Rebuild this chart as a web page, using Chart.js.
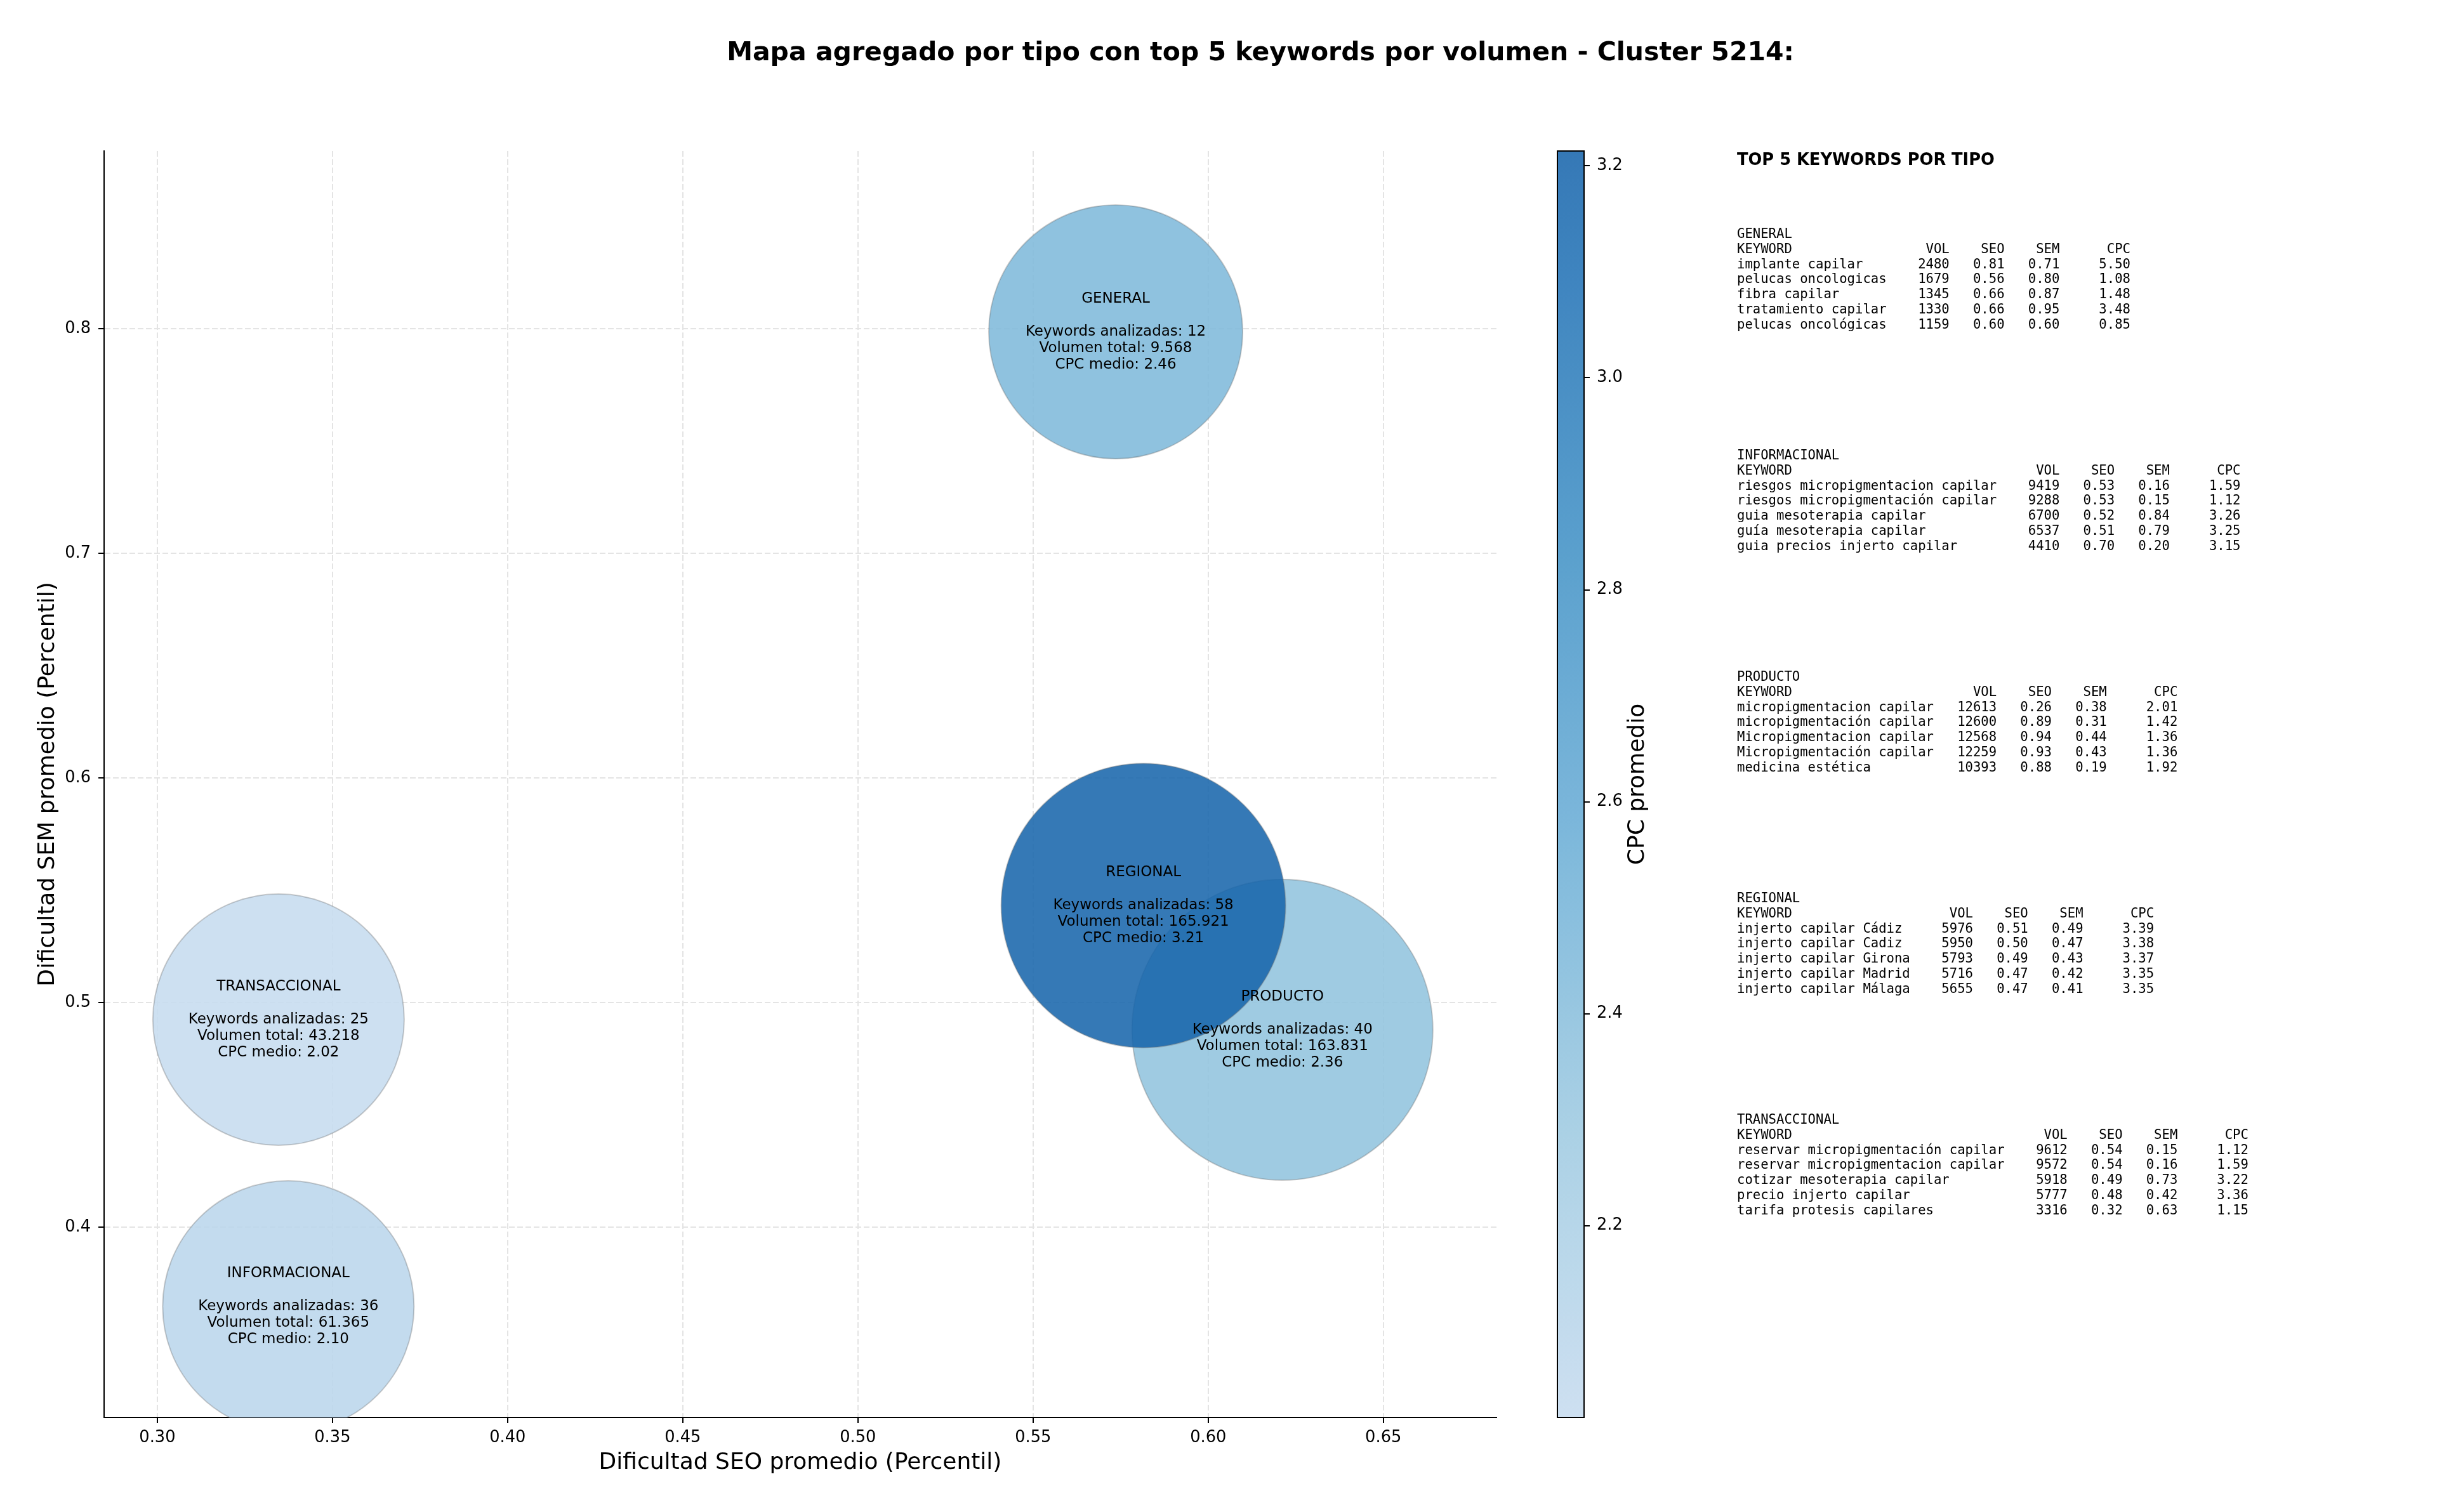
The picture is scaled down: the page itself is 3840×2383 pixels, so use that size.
<!DOCTYPE html>
<html>
<head>
<meta charset="utf-8">
<title>Mapa agregado por tipo - Cluster 5214</title>
<script src="https://cdn.jsdelivr.net/npm/chart.js@4.4.1/dist/chart.umd.min.js"></script>
<style>
  html, body { margin: 0; padding: 0; background: #fff; overflow: hidden; }
  #wrap { position: relative; width: 3840px; height: 2383px; }
  #chart { position: absolute; left: 0; top: 0; }
  #title { position: absolute; left: 0; top: 61px; width: 3972px; text-align: center;
           font: bold 41px/41px 'DejaVu Sans', sans-serif; color: #000; white-space: nowrap; }
  #panelTitle { position: absolute; left: 2737px; top: 239px;
                font: bold 25.7px/25.7px 'DejaVu Sans', sans-serif; color: #000; white-space: nowrap; }
  .kwBlock { position: absolute; left: 2737px; margin: 0;
             font: 20.6px/23.8px 'DejaVu Sans Mono', monospace; white-space: pre; color: #000; }
</style>
</head>
<body>
<div id="wrap">
  <canvas id="chart" width="3840" height="2383"></canvas>
  <div id="title">Mapa agregado por tipo con top 5 keywords por volumen - Cluster 5214:</div>
  <div id="panelTitle">TOP 5 KEYWORDS POR TIPO</div>
  <div id="panel"></div>
</div>
<script>
// --- datos agregados por tipo ---
const tipos = ['GENERAL', 'INFORMACIONAL', 'PRODUCTO', 'REGIONAL', 'TRANSACCIONAL'];
const seoMedio = [0.5736, 0.3374, 0.6212, 0.5815, 0.3346];
const semMedio = [0.7986, 0.3647, 0.4879, 0.5432, 0.4924];
const cpcMedio = [2.46, 2.10, 2.36, 3.21, 2.02];
const numKeywords = [12, 36, 40, 58, 25];
const volTotal = [9568, 61365, 163831, 165921, 43218];
const bubbleRadius = [200, 198, 237, 224, 198];

// ejes
const xTicks = [0.30, 0.35, 0.40, 0.45, 0.50, 0.55, 0.60, 0.65];
const yTicks = [0.4, 0.5, 0.6, 0.7, 0.8];
const cbarTicks = [2.2, 2.4, 2.6, 2.8, 3.0, 3.2];
const xRange = [0.2848, 0.6823];
const yRange = [0.3153, 0.8791];
const cbarRange = [2.019, 3.214];

// top 5 keywords por tipo: [keyword, vol, seo, sem, cpc]
const topGeneral = [
    ['implante capilar', 2480, 0.81, 0.71, 5.50],
    ['pelucas oncologicas', 1679, 0.56, 0.80, 1.08],
    ['fibra capilar', 1345, 0.66, 0.87, 1.48],
    ['tratamiento capilar', 1330, 0.66, 0.95, 3.48],
    ['pelucas oncológicas', 1159, 0.60, 0.60, 0.85]
];
const topInformacional = [
    ['riesgos micropigmentacion capilar', 9419, 0.53, 0.16, 1.59],
    ['riesgos micropigmentación capilar', 9288, 0.53, 0.15, 1.12],
    ['guia mesoterapia capilar', 6700, 0.52, 0.84, 3.26],
    ['guía mesoterapia capilar', 6537, 0.51, 0.79, 3.25],
    ['guia precios injerto capilar', 4410, 0.70, 0.20, 3.15]
];
const topProducto = [
    ['micropigmentacion capilar', 12613, 0.26, 0.38, 2.01],
    ['micropigmentación capilar', 12600, 0.89, 0.31, 1.42],
    ['Micropigmentacion capilar', 12568, 0.94, 0.44, 1.36],
    ['Micropigmentación capilar', 12259, 0.93, 0.43, 1.36],
    ['medicina estética', 10393, 0.88, 0.19, 1.92]
];
const topRegional = [
    ['injerto capilar Cádiz', 5976, 0.51, 0.49, 3.39],
    ['injerto capilar Cadiz', 5950, 0.50, 0.47, 3.38],
    ['injerto capilar Girona', 5793, 0.49, 0.43, 3.37],
    ['injerto capilar Madrid', 5716, 0.47, 0.42, 3.35],
    ['injerto capilar Málaga', 5655, 0.47, 0.41, 3.35]
];
const topTransaccional = [
    ['reservar micropigmentación capilar', 9612, 0.54, 0.15, 1.12],
    ['reservar micropigmentacion capilar', 9572, 0.54, 0.16, 1.59],
    ['cotizar mesoterapia capilar', 5918, 0.49, 0.73, 3.22],
    ['precio injerto capilar', 5777, 0.48, 0.42, 3.36],
    ['tarifa protesis capilares', 3316, 0.32, 0.63, 1.15]
];
const topPorTipo = [topGeneral, topInformacional, topProducto, topRegional, topTransaccional];

// colormap Blues (tramo 0.25 - 0.8)
const bluesStops = [
    [0.0, [247, 251, 255]], [0.125, [222, 235, 247]], [0.25, [198, 219, 239]],
    [0.375, [158, 202, 225]], [0.5, [107, 174, 214]], [0.625, [66, 146, 198]],
    [0.75, [33, 113, 181]], [0.875, [8, 81, 156]], [1.0, [8, 48, 107]]
];
const bubbleAlpha = 0.87;

function cpcColor(v) {
    let t = 0.25 + 0.55 * (v - cbarRange[0]) / (cbarRange[1] - cbarRange[0]);
    t = Math.min(1, Math.max(0, t));
    let k = 0;
    while (k < bluesStops.length - 2 && t > bluesStops[k + 1][0]) k++;
    const [t0, c0] = bluesStops[k];
    const [t1, c1] = bluesStops[k + 1];
    const f = (t - t0) / (t1 - t0);
    const c = c0.map((a, i) => Math.round(a + (c1[i] - a) * f));
    return `rgba(${c[0]},${c[1]},${c[2]},${bubbleAlpha})`;
}

function fmtMiles(n) {
    return String(n).replace(/\B(?=(\d{3})+(?!\d))/g, '.');
}

function tablaTexto(tipo, filas) {
    const w = Math.max(7, ...filas.map(f => f[0].length));
    const lines = [tipo,
        'KEYWORD'.padEnd(w) + ' ' + 'VOL'.padStart(7) + ' ' + 'SEO'.padStart(6) + ' ' +
        'SEM'.padStart(6) + ' ' + 'CPC'.padStart(8)];
    filas.forEach(f => {
        lines.push(f[0].padEnd(w) + ' ' + String(f[1]).padStart(7) + ' ' +
            f[2].toFixed(2).padStart(6) + ' ' + f[3].toFixed(2).padStart(6) + ' ' +
            f[4].toFixed(2).padStart(8));
    });
    return lines.join('\n');
}

// panel de texto a la derecha
const panel = document.getElementById('panel');
tipos.forEach((t, i) => {
    const pre = document.createElement('pre');
    pre.className = 'kwBlock';
    pre.style.top = (357 + i * 349) + 'px';
    pre.textContent = tablaTexto(t, topPorTipo[i]);
    panel.appendChild(pre);
});

// etiquetas dentro de las burbujas
const bubbleLabels = {
    id: 'bubbleLabels',
    afterDatasetsDraw(chart) {
        const {ctx, scales: {x, y}} = chart;
        ctx.save();
        ctx.font = "23px 'DejaVu Sans'";
        ctx.fillStyle = '#000';
        ctx.textAlign = 'center';
        ctx.textBaseline = 'middle';
        tipos.forEach((t, i) => {
            const cx = x.getPixelForValue(seoMedio[i]);
            const cy = y.getPixelForValue(semMedio[i]);
            const lines = [t, '', 'Keywords analizadas: ' + numKeywords[i],
                'Volumen total: ' + fmtMiles(volTotal[i]), 'CPC medio: ' + cpcMedio[i].toFixed(2)];
            lines.forEach((l, k) => ctx.fillText(l, cx, cy + (k - 2) * 26));
        });
        ctx.restore();
    }
};

// barra de color
const colorbar = {
    id: 'colorbar',
    afterDraw(chart) {
        const {ctx, chartArea} = chart;
        const s = chart.scales.cpc;
        const x0 = chartArea.right + 96;
        const w = 42;
        const top = s.getPixelForValue(cbarRange[1]);
        const bot = s.getPixelForValue(cbarRange[0]);
        ctx.save();
        const grad = ctx.createLinearGradient(0, bot, 0, top);
        for (let k = 0; k <= 40; k++) {
            const v = cbarRange[0] + (cbarRange[1] - cbarRange[0]) * k / 40;
            grad.addColorStop(k / 40, cpcColor(v));
        }
        ctx.fillStyle = grad;
        ctx.fillRect(x0, top, w, bot - top);
        ctx.strokeStyle = '#000';
        ctx.lineWidth = 2;
        ctx.strokeRect(x0, top, w, bot - top);
        ctx.beginPath();
        cbarTicks.forEach(v => {
            const py = Math.round(s.getPixelForValue(v));
            ctx.moveTo(x0 + w, py);
            ctx.lineTo(x0 + w + 9, py);
        });
        ctx.stroke();
        ctx.translate(chartArea.right + 223, (top + bot) / 2);
        ctx.rotate(-Math.PI / 2);
        ctx.font = "36px 'DejaVu Sans'";
        ctx.fillStyle = '#000';
        ctx.textAlign = 'center';
        ctx.textBaseline = 'middle';
        ctx.fillText('CPC promedio', 0, 0);
        ctx.restore();
    }
};

Chart.defaults.font.family = "'DejaVu Sans', sans-serif";
Chart.defaults.color = '#000';

const gridOpts = {
    color: '#e4e4e4', lineWidth: 2,
    tickColor: '#000', tickWidth: 2, tickLength: 9, tickBorderDash: []
};

const ctx = document.getElementById('chart').getContext('2d');
const chart = new Chart(ctx, {
    type: 'bubble',
    data: {
        datasets: [{
            label: 'Tipos',
            data: tipos.map((t, i) => ({x: seoMedio[i], y: semMedio[i], r: bubbleRadius[i]})),
            backgroundColor: cpcMedio.map(cpcColor),
            borderColor: 'rgba(110,110,110,0.35)',
            borderWidth: 2,
            hoverRadius: 0,
            clip: 0,
            xAxisID: 'x',
            yAxisID: 'y'
        }]
    },
    options: {
        responsive: false,
        animation: false,
        events: [],
        layout: { autoPadding: false, padding: { top: 238, left: 0, right: 0, bottom: 0 } },
        plugins: {
            legend: { display: false },
            tooltip: { enabled: false },
            title: { display: false }
        },
        scales: {
            x: {
                type: 'linear',
                position: 'bottom',
                min: xRange[0],
                max: xRange[1],
                afterBuildTicks: s => { s.ticks = xTicks.map(v => ({value: v})); },
                afterFit: s => { s.height = 149; s.paddingLeft = 0; s.paddingRight = 0; },
                ticks: { font: { size: 25.7 }, color: '#000', padding: 8, maxRotation: 0, autoSkip: false,
                         callback: v => v.toFixed(2) },
                grid: gridOpts,
                border: { display: true, color: '#000', width: 2, dash: [9, 4] },
                title: { display: true, text: 'Dificultad SEO promedio (Percentil)',
                         font: { size: 36 }, color: '#000', padding: { top: 0, bottom: 56 } }
            },
            y: {
                type: 'linear',
                position: 'left',
                min: yRange[0],
                max: yRange[1],
                afterBuildTicks: s => { s.ticks = yTicks.map(v => ({value: v})); },
                afterFit: s => { s.width = 164; s.paddingTop = 0; s.paddingBottom = 0; },
                ticks: { font: { size: 25.7 }, color: '#000', padding: 12, autoSkip: false,
                         callback: v => v.toFixed(1) },
                grid: gridOpts,
                border: { display: true, color: '#000', width: 2, dash: [9, 4] },
                title: { display: true, text: 'Dificultad SEM promedio (Percentil)',
                         font: { size: 36 }, color: '#000', padding: { top: 54, bottom: 0 } }
            },
            cpc: {
                type: 'linear',
                position: 'right',
                min: cbarRange[0],
                max: cbarRange[1],
                afterBuildTicks: s => { s.ticks = cbarTicks.map(v => ({value: v})); },
                afterFit: s => { s.width = 1482; s.paddingTop = 0; s.paddingBottom = 0; },
                grid: { display: false, drawTicks: false, drawOnChartArea: false },
                border: { display: false },
                ticks: { font: { size: 25.7 }, color: '#000', padding: 158, autoSkip: false,
                         callback: v => v.toFixed(1) }
            }
        }
    },
    plugins: [bubbleLabels, colorbar]
});
</script>
</body>
</html>
